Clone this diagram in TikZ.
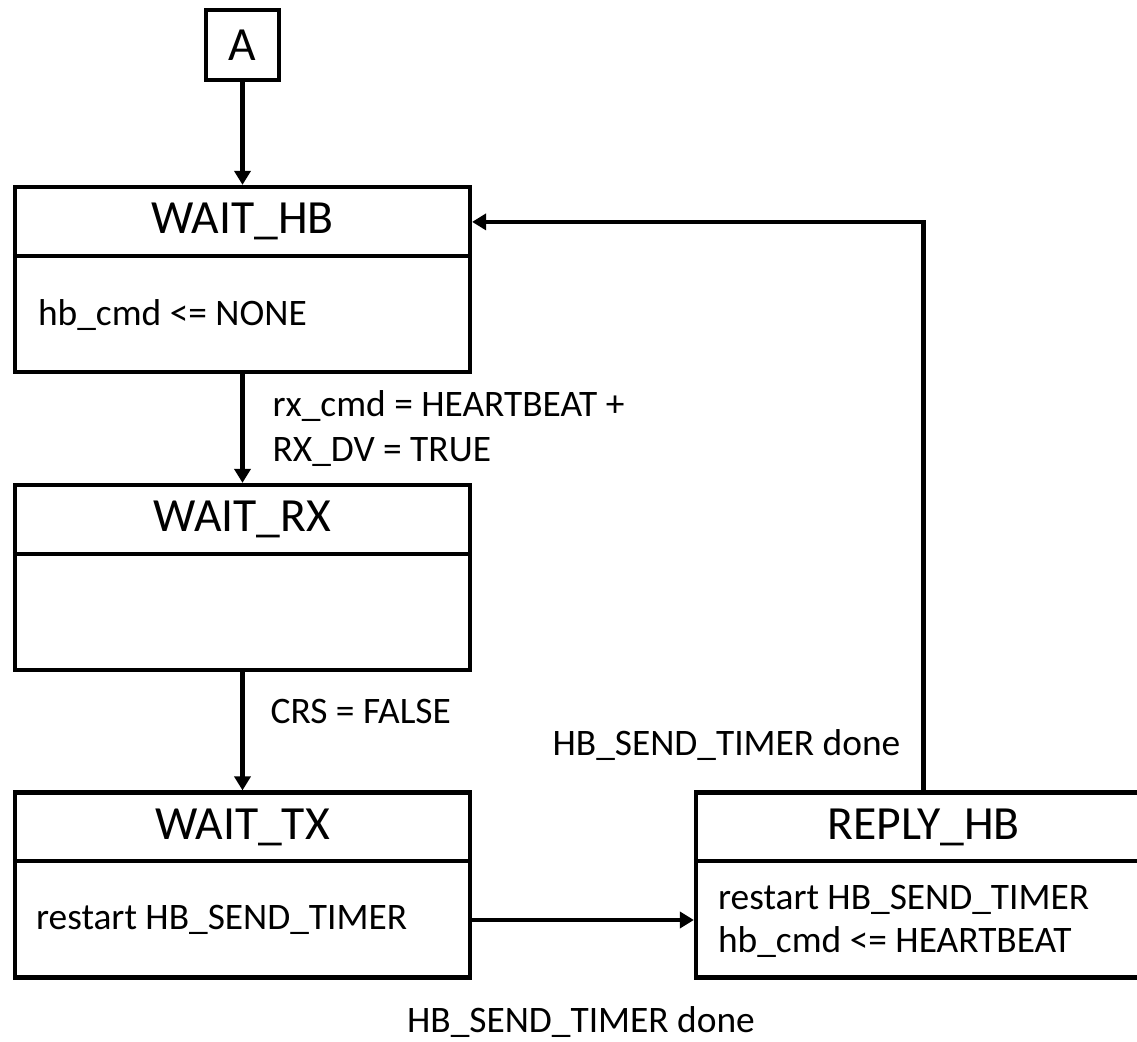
\documentclass[tikz,border=0pt]{standalone}
\usepackage{fontspec}
\setmainfont{Carlito}
\usetikzlibrary{arrows.meta}
\tikzset{
  every picture/.style={line width=2.1pt, x=0.5pt, y=-0.5pt},
  statebox/.style={draw, minimum width=227.5pt, minimum height=92.5pt, inner sep=0pt},
  stitle/.style={font=\fontsize{23.8}{28}\selectfont, inner sep=0pt},
  sbody/.style={font=\fontsize{18.7}{21.5}\selectfont, align=left, anchor=west, inner sep=0pt},
  cond/.style={font=\fontsize{18.7}{22.5}\selectfont, align=left, inner sep=0pt},
  arrow/.style={-{Triangle[length=7pt, width=8pt]}},
}
\begin{document}
\begin{tikzpicture}
  \useasboundingbox (0,0) rectangle (1137,1042);
  % entry point
  \node[draw, minimum width=36.5pt, minimum height=35pt, stitle] (a) at (242.5,45) {A};
  % states
  \foreach \n/\x/\y/\t in {whb/242.5/279.5/WAIT\_HB, wrx/242.5/577.5/WAIT\_RX,
                           wtx/242.5/885/WAIT\_TX, rhb/923.5/885/REPLY\_HB} {
    \node[statebox] (\n) at (\x,\y) {};
    \node[stitle] (\n-t) at ([yshift=-18.5pt]\n.north) {\t};
    \draw ([yshift=-35.5pt]\n.north west) -- ([yshift=-35.5pt]\n.north east);
  }
  \node[sbody] (whb-b) at (36,315) {hb\_cmd <= NONE};
  \node[sbody] (wtx-b) at (34,920) {restart HB\_SEND\_TIMER};
  \node[sbody] (rhb-b) at (716,921) {restart HB\_SEND\_TIMER\\hb\_cmd <= HEARTBEAT};
  % transitions
  \draw[arrow] (a.south) -- (whb.north);
  \draw[arrow] (whb.south) -- node[cond, right=14pt] {rx\_cmd = HEARTBEAT +\\RX\_DV = TRUE} (wrx.north);
  \draw[arrow] (wrx.south) -- node[cond, right=13pt, pos=0.33] {CRS = FALSE} (wtx.north);
  \draw[arrow] (wtx.east |- wtx-b) -- (rhb.west |- wtx-b);
  \draw[arrow] (rhb.north) |- node[cond, pos=0.04, left=10.5pt] {HB\_SEND\_TIMER done} (whb.east |- whb-t);
  \node[cond] (done) at (581,1022) {HB\_SEND\_TIMER done};
\end{tikzpicture}
\end{document}
